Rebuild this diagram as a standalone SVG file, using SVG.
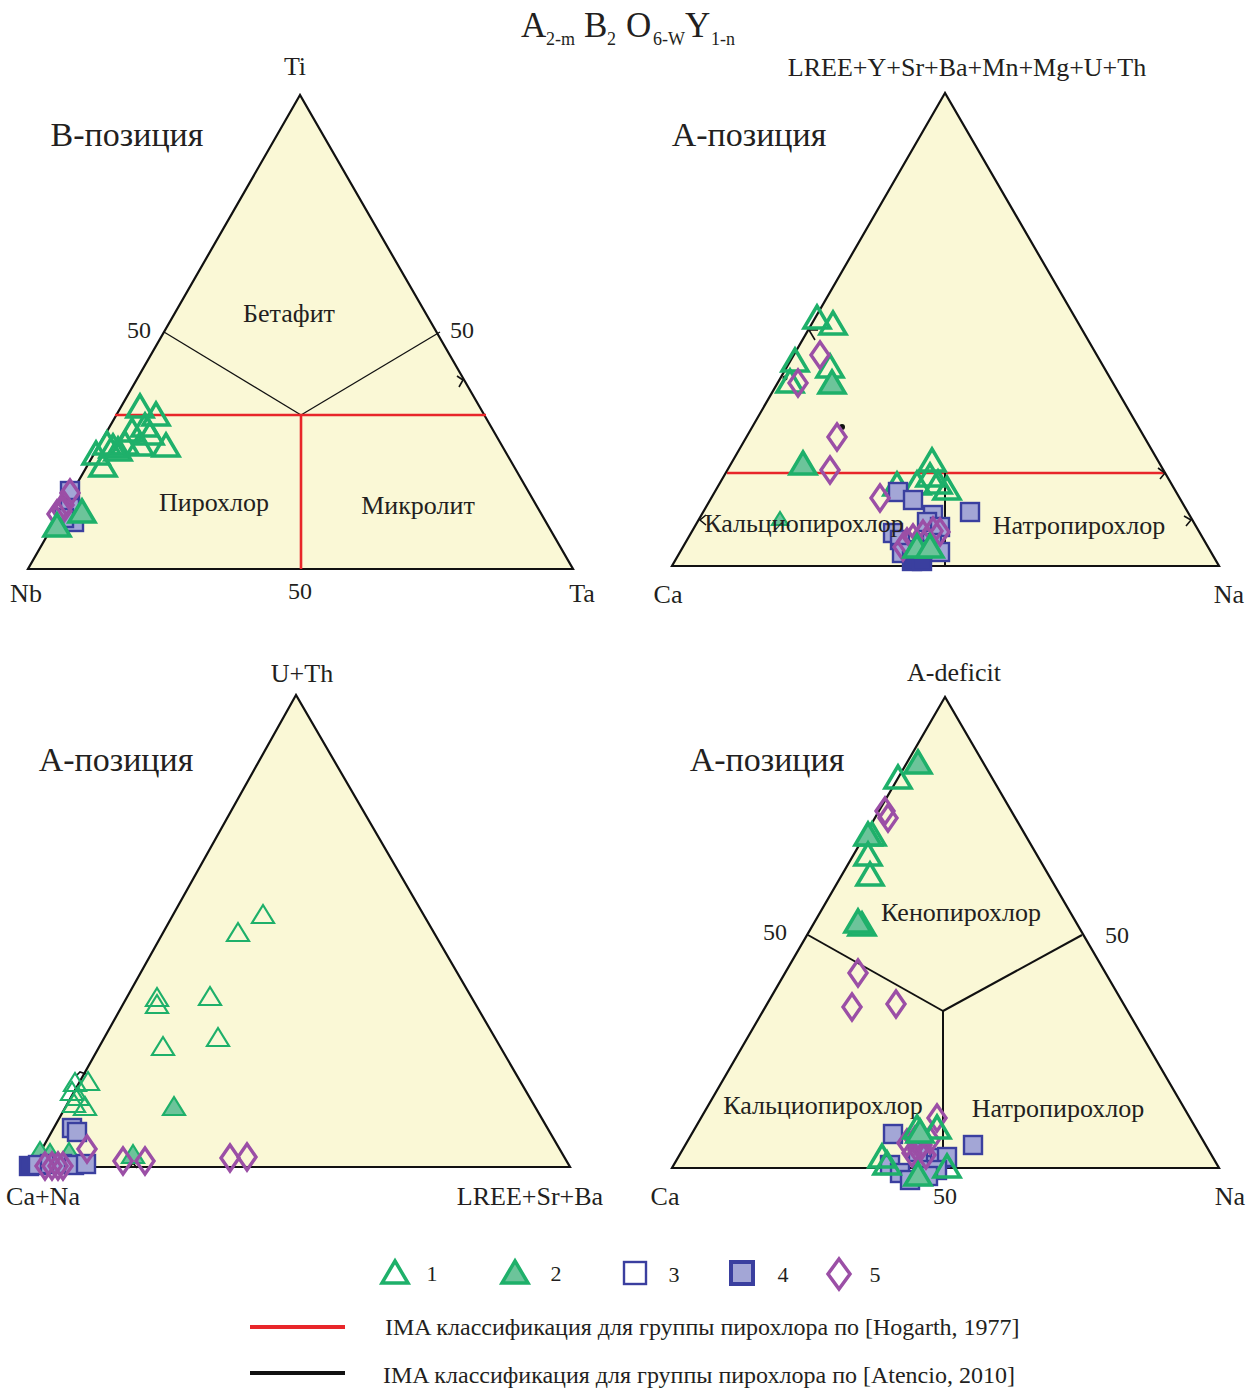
<svg xmlns="http://www.w3.org/2000/svg" width="1254" height="1389" viewBox="0 0 1254 1389">
<style>
text{font-family:"Liberation Serif","Times New Roman",serif;fill:#231f20}
.tri{fill:#faf8d6;stroke:#111;stroke-width:2.2}
.blk{stroke:#111;stroke-width:2;fill:none}
.red{stroke:#e8262a;stroke-width:2.6;fill:none}
.lbl{font-size:26px}
.ttl{font-size:34px}
.num{font-size:24px}
.cor{font-size:26px}
.to{fill:none;stroke:#1eb06a;stroke-width:3.5;stroke-linejoin:miter}
.tf{fill:#6cc49a;stroke:#1eb06a;stroke-width:3.5}
.tos{fill:none;stroke:#1eb06a;stroke-width:2.2}
.tfs{fill:#6cc49a;stroke:#1eb06a;stroke-width:2.2}
.sq{fill:#a3a6d6;stroke:#3a3f9f;stroke-width:2.4}
.sqd{fill:#3a3f9f;stroke:#3a3f9f;stroke-width:2.4}
.sqo{fill:none;stroke:#3a3f9f;stroke-width:2.4}
.dm{fill:none;stroke:#9b4fa6;stroke-width:3.4}
.leg{font-size:24px}
.legn{font-size:22px}
</style>
<defs>
<path id="to" class="to" d="M0,-13 L13,9 L-13,9 Z"/>
<path id="tf" class="tf" d="M0,-13 L13,9 L-13,9 Z"/>
<path id="tos" class="tos" d="M0,-10 L11,8 L-11,8 Z"/>
<path id="tfs" class="tfs" d="M0,-10 L11,8 L-11,8 Z"/>
<path id="tss" class="tfs" d="M0,-7 L8,6 L-8,6 Z"/>
<rect id="sq" class="sq" x="-9" y="-9" width="18" height="18"/>
<rect id="sqd" class="sqd" x="-9" y="-9" width="18" height="18"/>
<path id="dm" class="dm" d="M0,-13 L9,0 L0,13 L-9,0 Z"/>
</defs>

<g id="title">
<text x="521" y="37" font-size="35">A</text><text x="546" y="45" font-size="18">2-m</text>
<text x="584" y="37" font-size="35">B</text><text x="607" y="45" font-size="18">2</text>
<text x="626" y="37" font-size="35">O</text><text x="653" y="45" font-size="18">6-W</text>
<text x="685" y="37" font-size="35">Y</text><text x="711" y="45" font-size="18">1-n</text>
</g>

<!-- Diagram 1: B-position -->
<g id="diagram-b">
<polygon class="tri" points="300,95 28,569 573,569"/>
<g id="connectors-b">
<line class="blk" x1="164" y1="332" x2="301" y2="415" style="stroke-width:1.3"/>
<line class="blk" x1="440" y1="332" x2="301" y2="415" style="stroke-width:1.3"/>
<line class="red" x1="115" y1="415" x2="486" y2="415"/>
<line class="red" x1="301" y1="415" x2="301" y2="569"/>
<polyline class="blk" points="457,376 463,380 459,387" style="stroke-width:1.6"/>
</g>
<text class="cor" x="295" y="75" text-anchor="middle">Ti</text>
<text class="cor" x="26" y="602" text-anchor="middle">Nb</text>
<text class="cor" x="582" y="602" text-anchor="middle">Ta</text>
<text class="num" x="139" y="338" text-anchor="middle">50</text>
<text class="num" x="462" y="338" text-anchor="middle">50</text>
<text class="num" x="300" y="599" text-anchor="middle">50</text>
<text class="ttl" x="127" y="146" text-anchor="middle">B-позиция</text>
<text class="lbl" x="289" y="322" text-anchor="middle">Бетафит</text>
<text class="lbl" x="214" y="511" text-anchor="middle">Пирохлор</text>
<text class="lbl" x="418" y="514" text-anchor="middle">Микролит</text>
<g id="points-b">
<use href="#to" x="140" y="408"/><use href="#to" x="156" y="416"/><use href="#to" x="145" y="427"/>
<use href="#to" x="132" y="432"/><use href="#to" x="150" y="435"/><use href="#to" x="125" y="445"/>
<use href="#to" x="140" y="446"/><use href="#to" x="166" y="447"/><use href="#to" x="107" y="445"/>
<use href="#to" x="118" y="451"/><use href="#to" x="96" y="455"/><use href="#to" x="103" y="467"/>
<use href="#to" x="113" y="448"/>
<use href="#sq" x="70" y="491"/><use href="#sq" x="70" y="508"/><use href="#sq" x="74" y="522"/><use href="#sq" x="64" y="518"/>
<use href="#dm" x="70" y="493"/><use href="#dm" x="64" y="505"/><use href="#dm" x="57" y="514"/><use href="#dm" x="62" y="511"/>
<use href="#tf" x="82" y="513"/><use href="#tf" x="57" y="527"/>
</g>
</g>

<!-- Diagram 2: A-position (Ca-Na) -->
<g id="diagram-a1">
<polygon class="tri" points="945,93 672,566 1219,566"/>
<g id="connectors-a1">
<line class="red" x1="727" y1="473" x2="1165" y2="473"/>
<line class="blk" x1="945" y1="473" x2="945" y2="566"/>
<polyline class="blk" points="1158,468 1165,473 1160,479" style="stroke-width:1.6"/>
<polyline class="blk" points="1184,516 1191,520 1186,526" style="stroke-width:1.6"/>
<polyline class="blk" points="706,515 700,520 706,525" style="stroke-width:1.6"/>
<polyline class="blk" points="818,330 809,330 815,340" style="stroke-width:1.6"/>
<circle cx="785" cy="378" r="2.5" fill="#111"/>
<circle cx="842" cy="427" r="3" fill="#111"/>
</g>
<text class="cor" x="967" y="76" text-anchor="middle">LREE+Y+Sr+Ba+Mn+Mg+U+Th</text>
<text class="cor" x="668" y="603" text-anchor="middle">Ca</text>
<text class="cor" x="1229" y="603" text-anchor="middle">Na</text>
<text class="ttl" x="749" y="146" text-anchor="middle">A-позиция</text>
<g id="points-a1">
<use href="#to" x="817" y="319"/><use href="#to" x="833" y="325"/><use href="#to" x="795" y="362"/>
<use href="#to" x="830" y="368"/><use href="#to" x="790" y="383"/><use href="#tf" x="832" y="384"/>
<use href="#dm" x="820" y="355"/><use href="#dm" x="798" y="383"/><use href="#dm" x="837" y="437"/><use href="#dm" x="830" y="470"/>
<use href="#tf" x="803" y="465"/><use href="#tss" x="780" y="519"/>
<use href="#to" x="932" y="462"/><use href="#to" x="897" y="486"/><use href="#to" x="917" y="485"/>
<use href="#to" x="930" y="477"/><use href="#to" x="938" y="484"/><use href="#to" x="947" y="490"/>
<use href="#sq" x="898" y="492"/><use href="#sq" x="913" y="500"/><use href="#sq" x="970" y="512"/>
<use href="#sq" x="933" y="515"/><use href="#sq" x="927" y="522"/><use href="#sq" x="940" y="527"/>
<use href="#sq" x="893" y="533"/><use href="#sq" x="900" y="540"/><use href="#sq" x="932" y="543"/>
<use href="#sq" x="920" y="550"/><use href="#sq" x="902" y="553"/><use href="#sq" x="940" y="552"/>
<use href="#sqd" x="912" y="561"/><use href="#sqd" x="922" y="561"/>
<use href="#dm" x="880" y="498"/><use href="#dm" x="907" y="542"/><use href="#dm" x="913" y="538"/>
<use href="#dm" x="923" y="534"/><use href="#dm" x="933" y="531"/><use href="#dm" x="940" y="532"/>
<use href="#dm" x="927" y="540"/><use href="#dm" x="903" y="547"/>
<use href="#tf" x="917" y="548"/><use href="#tf" x="930" y="548"/>
</g>
<text class="lbl" x="804" y="532" text-anchor="middle">Кальциопирохлор</text>
<text class="lbl" x="1079" y="534" text-anchor="middle">Натропирохлор</text>
</g>

<!-- Diagram 3: A-position (U+Th) -->
<g id="diagram-a2">
<polygon class="tri" points="296,695 32,1167 570,1167"/>
<g id="connectors-a2">
<polyline class="blk" points="76,1076 80,1072 86,1074" style="stroke-width:1.6"/>
<polyline class="blk" points="129,1168 133,1163 137,1168" style="stroke-width:1.6"/>
</g>
<text class="cor" x="302" y="682" text-anchor="middle">U+Th</text>
<text class="cor" x="43" y="1205" text-anchor="middle">Ca+Na</text>
<text class="cor" x="530" y="1205" text-anchor="middle">LREE+Sr+Ba</text>
<text class="ttl" x="116" y="771" text-anchor="middle">A-позиция</text>
<g id="points-a2">
<use href="#tos" x="263" y="915"/><use href="#tos" x="238" y="933"/><use href="#tos" x="157" y="998"/>
<use href="#tos" x="157" y="1005"/><use href="#tos" x="210" y="997"/><use href="#tos" x="163" y="1047"/>
<use href="#tos" x="218" y="1038"/><use href="#tfs" x="174" y="1107"/>
<use href="#tos" x="75" y="1083"/><use href="#tos" x="88" y="1082"/><use href="#tos" x="72" y="1092"/>
<use href="#tos" x="78" y="1097"/><use href="#tos" x="74" y="1104"/><use href="#tos" x="85" y="1107"/>
<use href="#sq" x="72" y="1128"/><use href="#sq" x="77" y="1132"/>
<use href="#tfs" x="40" y="1152"/><use href="#tfs" x="50" y="1154"/><use href="#tfs" x="69" y="1153"/>
<use href="#sqd" x="29" y="1166"/><use href="#sq" x="38" y="1165"/><use href="#sq" x="50" y="1164"/>
<use href="#sq" x="62" y="1164"/><use href="#sq" x="74" y="1165"/><use href="#sq" x="86" y="1164"/>
<use href="#dm" x="87" y="1149"/><use href="#dm" x="45" y="1166"/><use href="#dm" x="52" y="1166"/>
<use href="#dm" x="58" y="1166"/><use href="#dm" x="63" y="1166"/>
<use href="#tfs" x="133" y="1155"/>
<use href="#dm" x="123" y="1161"/><use href="#dm" x="145" y="1161"/><use href="#dm" x="230" y="1158"/><use href="#dm" x="247" y="1157"/>
</g>
</g>

<!-- Diagram 4: A-position (A-deficit) -->
<g id="diagram-a3">
<polygon class="tri" points="945,697 672,1168 1219,1168"/>
<g id="connectors-a3">
<line class="blk" x1="808" y1="935" x2="943" y2="1011"/>
<line class="blk" x1="1082" y1="935" x2="943" y2="1011"/>
<line class="blk" x1="943" y1="1011" x2="943" y2="1168"/>
<rect x="865" y="836" width="6" height="3" fill="#111"/>
</g>
<text class="cor" x="954" y="681" text-anchor="middle">A-deficit</text>
<text class="cor" x="665" y="1205" text-anchor="middle">Ca</text>
<text class="cor" x="1230" y="1205" text-anchor="middle">Na</text>
<text class="num" x="775" y="940" text-anchor="middle">50</text>
<text class="num" x="1117" y="943" text-anchor="middle">50</text>
<text class="num" x="945" y="1204" text-anchor="middle">50</text>
<text class="ttl" x="767" y="771" text-anchor="middle">A-позиция</text>
<text class="lbl" x="961" y="921" text-anchor="middle">Кенопирохлор</text>
<text class="lbl" x="823" y="1114" text-anchor="middle">Кальциопирохлор</text>
<text class="lbl" x="1058" y="1117" text-anchor="middle">Натропирохлор</text>
<g id="points-a3">
<use href="#tf" x="918" y="764"/><use href="#to" x="898" y="779"/>
<use href="#dm" x="885" y="811"/><use href="#dm" x="888" y="818"/>
<use href="#to" x="872" y="836"/><use href="#tf" x="868" y="836"/>
<use href="#to" x="868" y="856"/><use href="#to" x="870" y="876"/>
<use href="#tf" x="862" y="926"/><use href="#tf" x="858" y="923"/>
<use href="#dm" x="858" y="973"/><use href="#dm" x="852" y="1007"/><use href="#dm" x="896" y="1004"/>
<use href="#sq" x="893" y="1134"/><use href="#sq" x="973" y="1145"/><use href="#sq" x="890" y="1165"/>
<use href="#sq" x="900" y="1173"/><use href="#sq" x="910" y="1180"/><use href="#sq" x="923" y="1165"/>
<use href="#sq" x="940" y="1158"/><use href="#sq" x="947" y="1157"/><use href="#sq" x="918" y="1152"/>
<use href="#sq" x="937" y="1170"/><use href="#sq" x="928" y="1176"/>
<use href="#dm" x="937" y="1118"/><use href="#dm" x="907" y="1143"/><use href="#dm" x="915" y="1140"/>
<use href="#dm" x="922" y="1145"/><use href="#dm" x="930" y="1140"/><use href="#dm" x="918" y="1150"/>
<use href="#dm" x="926" y="1155"/><use href="#dm" x="912" y="1153"/>
<use href="#to" x="917" y="1129"/><use href="#to" x="937" y="1129"/><use href="#to" x="882" y="1158"/>
<use href="#to" x="887" y="1165"/><use href="#to" x="947" y="1168"/>
<use href="#tf" x="920" y="1133"/><use href="#tf" x="918" y="1176"/>
</g>
</g>

<g id="legend">
<use href="#to" x="395" y="1274"/><text class="legn" x="432" y="1281" text-anchor="middle">1</text>
<use href="#tf" x="515" y="1274"/><text class="legn" x="556" y="1281" text-anchor="middle">2</text>
<rect class="sqo" x="624" y="1262" width="22" height="22"/><text class="legn" x="674" y="1282" text-anchor="middle">3</text>
<rect class="sq" x="731" y="1262" width="22" height="22" style="stroke-width:4"/><text class="legn" x="783" y="1282" text-anchor="middle">4</text>
<path class="dm" d="M839,1259 L850,1274 L839,1289 L828,1274 Z" style="stroke-width:3.5"/><text class="legn" x="875" y="1282" text-anchor="middle">5</text>
<line class="red" x1="250" y1="1327" x2="345" y2="1327" style="stroke-width:4"/>
<line class="blk" x1="250" y1="1373" x2="345" y2="1373" style="stroke-width:4"/>
<text class="leg" x="385" y="1335">IMA классификация для группы пирохлора по [Hogarth, 1977]</text>
<text class="leg" x="383" y="1383">IMA классификация для группы пирохлора по [Atencio, 2010]</text>
</g>
</svg>
